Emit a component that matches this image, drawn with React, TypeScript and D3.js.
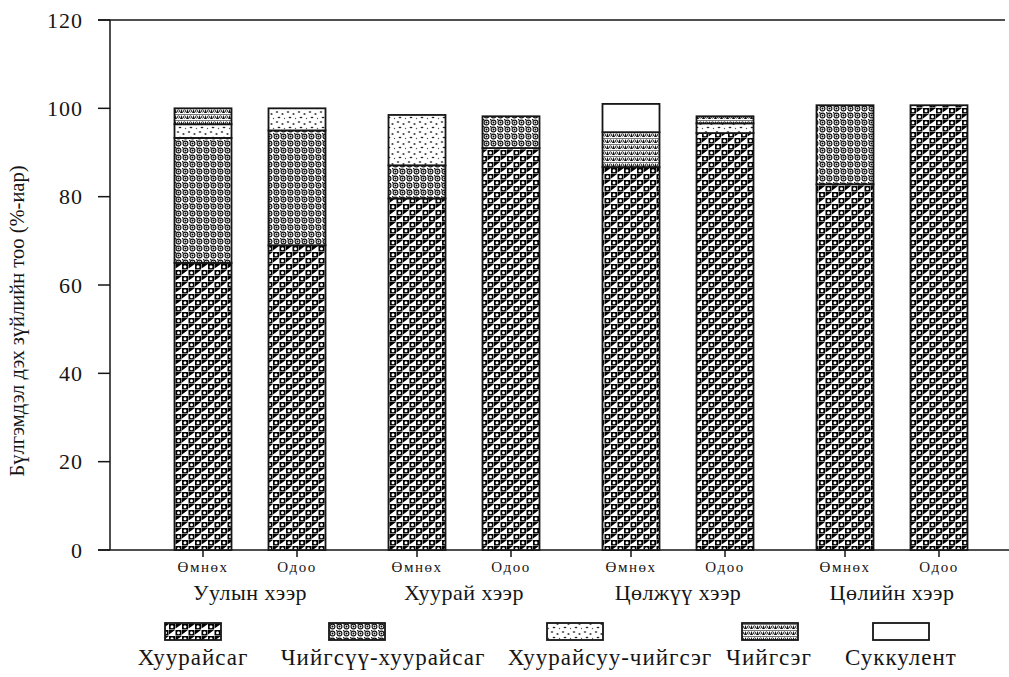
import React from "react";
import * as d3 from "d3";

const groups = ["Уулын хээр", "Хуурай хээр", "Цөлжүү хээр", "Цөлийн хээр"];
const periods = ["Өмнөх", "Одоо"];
const seriesNames = ["Хуурайсаг", "Чийгсүү-хуурайсаг", "Хуурайсуу-чийгсэг", "Чийгсэг", "Суккулент"];

// values per bar: Уулын Өмнөх, Уулын Одоо, Хуурай Өмнөх, Хуурай Одоо, Цөлжүү Өмнөх, Цөлжүү Одоо, Цөлийн Өмнөх, Цөлийн Одоо
const khuuraisag = [65, 69, 79.6, 91, 86.7, 94.4, 82.8, 100.7];
const chiigsuuKhuuraisag = [28.3, 26, 7.5, 7.2, 0, 0, 17.9, 0];
const khuuraisuuChiigseg = [3.1, 5, 11.4, 0, 0, 2.2, 0, 0];
const chiigseg = [3.6, 0, 0, 0, 7.9, 1.6, 0, 0];
const sukkulent = [0, 0, 0, 0, 6.4, 0, 0, 0];

const yTicks = [0, 20, 40, 60, 80, 100, 120];
const yTitle = "Бүлгэмдэл дэх зүйлийн тоо (%-иар)";

const seriesValues = [khuuraisag, chiigsuuKhuuraisag, khuuraisuuChiigseg, chiigseg, sukkulent];
const patternIds = ["p-dry", "p-semi", "p-dots", "p-moist", "p-white"];

// legend layout (positions only)
const legendSwatchX = [165, 329, 547, 742, 873];
const legendTextX = [193, 383, 610, 769, 901];

export default function App() {
  const W = 1009, H = 677;
  const y = d3.scaleLinear().domain([0, 120]).range([550, 20]);
  const gx = d3.scaleBand<string>().domain(groups).range([143, 999]).padding(0);
  const px = d3.scalePoint<string>().domain(periods).range([60, 154]);
  const barW = 57;

  const rows: any[] = [];
  groups.forEach((g, gi) => {
    periods.forEach((p, pi) => {
      const idx = gi * 2 + pi;
      const r: any = { group: g, period: p, idx };
      seriesNames.forEach((s, si) => (r[s] = seriesValues[si][idx]));
      rows.push(r);
    });
  });
  const stacked = d3.stack().keys(seriesNames)(rows as any);
  const cx = (r: any) => (gx(r.group) as number) + (px(r.period) as number);

  const fontStyle = { fontFamily: "Liberation Serif, Times New Roman, serif" };
  const ink = "#151515";

  return (
    <svg width={W} height={H} style={{ position: "absolute", left: 0, top: 0, background: "#fff" }}>
      <defs>
        <pattern id="p-dry" width="13" height="12" patternUnits="userSpaceOnUse">
          <rect width="13" height="12" fill="#fff" />
          <rect x="0" y="0" width="6" height="5.5" fill="#000" />
          <rect x="6.5" y="6" width="6" height="5.5" fill="#000" />
          <path d="M6.5 0 L13 0 L6.5 4.5 Z" fill="#000" />
          <path d="M0 6 L6 6 L0 10.5 Z" fill="#000" />
          <circle cx="3" cy="2.8" r="1.5" fill="#fff" />
          <circle cx="9.5" cy="8.8" r="1.5" fill="#fff" />
        </pattern>
        <pattern id="p-semi" width="7" height="7" patternUnits="userSpaceOnUse">
          <rect width="7" height="7" fill="#fff" />
          <circle cx="3.5" cy="3.5" r="2.4" fill="none" stroke="#111" strokeWidth="1.1" />
          <circle cx="3.5" cy="3.5" r="1" fill="#000" />
          <rect x="0" y="0" width="1.4" height="1.4" fill="#222" />
        </pattern>
        <pattern id="p-dots" width="11" height="10" patternUnits="userSpaceOnUse">
          <rect width="11" height="10" fill="#fff" />
          <ellipse cx="2" cy="2" rx="1.3" ry="0.8" fill="#222" />
          <ellipse cx="7.5" cy="4" rx="1.1" ry="0.9" fill="#444" />
          <ellipse cx="4" cy="7.5" rx="1.4" ry="0.8" fill="#222" />
          <circle cx="9.5" cy="8.5" r="0.7" fill="#555" />
        </pattern>
        <pattern id="p-moist" width="6" height="6" patternUnits="userSpaceOnUse">
          <rect width="6" height="6" fill="#fff" />
          <path d="M0 5 L1.5 1 L3 5 Z" fill="#111" />
          <circle cx="4.5" cy="3" r="1.2" fill="none" stroke="#111" strokeWidth="0.8" />
          <rect x="0" y="0" width="6" height="0.8" fill="#555" />
        </pattern>
        <pattern id="p-white" width="4" height="4" patternUnits="userSpaceOnUse">
          <rect width="4" height="4" fill="#fff" />
        </pattern>
      </defs>

      {/* axes */}
      <line x1={110} x2={110} y1={y(120)} y2={y(0)} stroke={ink} strokeWidth={1.5} />
      <line x1={98} x2={1005} y1={y(120)} y2={y(120)} stroke={ink} strokeWidth={1.5} />
      <line x1={98} x2={1009} y1={y(0)} y2={y(0)} stroke={ink} strokeWidth={1.5} />
      {yTicks.map((t) => (
        <g key={t}>
          <line x1={98} x2={110} y1={y(t)} y2={y(t)} stroke={ink} strokeWidth={1.5} />
          <text x={83} y={y(t)} dy="0.35em" textAnchor="end" style={fontStyle} fontSize={22} letterSpacing={1} fill={ink}>
            {t}
          </text>
        </g>
      ))}
      <text
        transform={`translate(24,${(y(0) + y(120)) / 2 + 36}) rotate(-90)`}
        textAnchor="middle"
        style={fontStyle}
        fontSize={20.5}
        fill={ink}
      >
        {yTitle}
      </text>

      {/* bars */}
      {stacked.map((layer, si) =>
        layer.map((d, i) => {
          const r: any = rows[i];
          if (d[1] - d[0] <= 0) return null;
          const x0 = cx(r) - barW / 2;
          return (
            <rect
              key={`${si}-${i}`}
              x={x0}
              y={y(d[1])}
              width={barW}
              height={y(d[0]) - y(d[1])}
              fill={`url(#${patternIds[si]})`}
              stroke={ink}
              strokeWidth={1.8}
            />
          );
        })
      )}

      {/* x ticks and labels */}
      {rows.map((r: any, i) => (
        <g key={`xt${i}`}>
          <line x1={cx(r)} x2={cx(r)} y1={y(0)} y2={y(0) + 7} stroke={ink} strokeWidth={1.5} />
          <text x={cx(r)} y={572} textAnchor="middle" style={fontStyle} fontSize={15} letterSpacing={1.5} fill={ink}>
            {r.period}
          </text>
        </g>
      ))}
      {groups.map((g) => (
        <text
          key={g}
          x={(gx(g) as number) + gx.bandwidth() / 2}
          y={600}
          textAnchor="middle"
          style={fontStyle}
          fontSize={22}
          letterSpacing={0.5}
          fill={ink}
        >
          {g}
        </text>
      ))}

      {/* legend */}
      {seriesNames.map((s, si) => (
        <g key={s}>
          <rect
            x={legendSwatchX[si]}
            y={623}
            width={56}
            height={17}
            fill={`url(#${patternIds[si]})`}
            stroke={ink}
            strokeWidth={1.8}
          />
          <text x={legendTextX[si]} y={665} textAnchor="middle" style={fontStyle} fontSize={23} letterSpacing={1} fill={ink}>
            {s}
          </text>
        </g>
      ))}
    </svg>
  );
}
